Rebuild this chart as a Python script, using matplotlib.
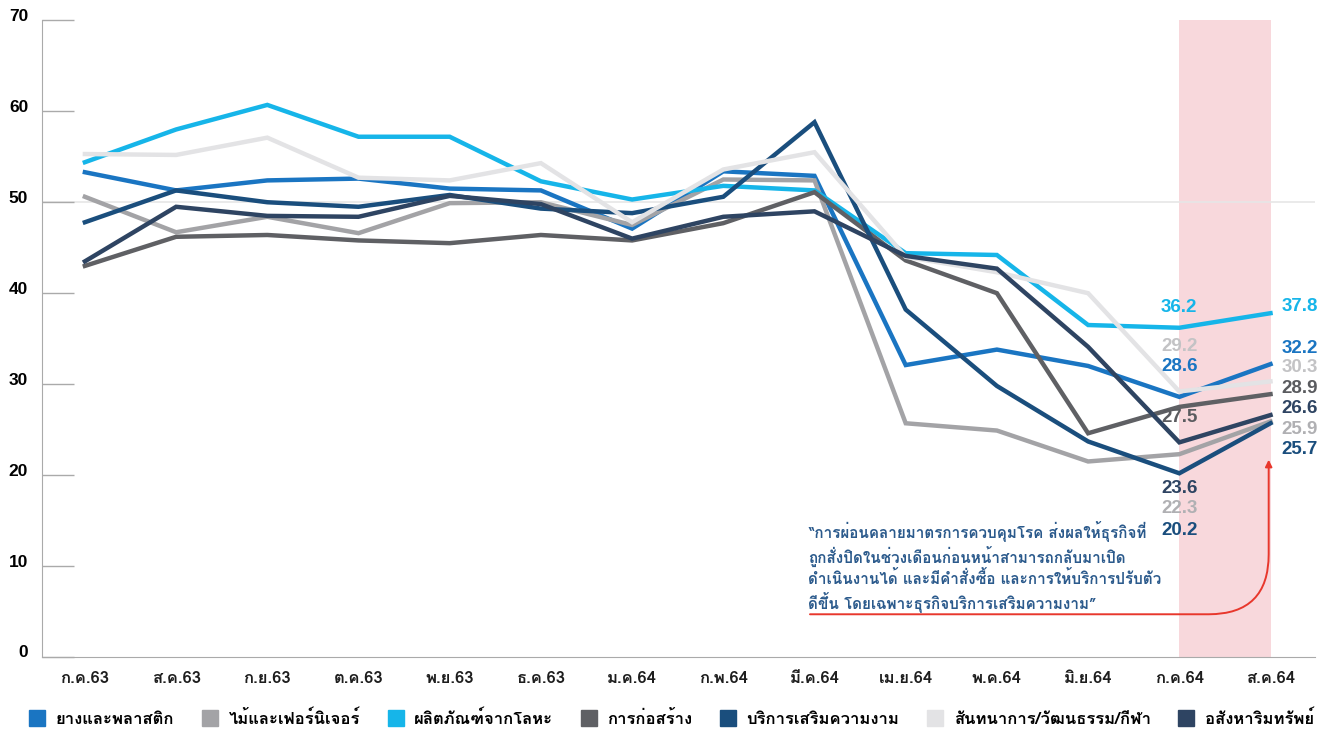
import matplotlib
matplotlib.use("Agg")
import matplotlib.pyplot as plt
from matplotlib import font_manager
from matplotlib.ft2font import FT2Font
from matplotlib.lines import Line2D
from matplotlib.transforms import ScaledTranslation


def thai_family():
    # pick the first installed family that can draw Thai script
    for f in font_manager.fontManager.ttflist:
        try:
            if 0x0E01 in FT2Font(f.fname).get_charmap():
                return f.name
        except Exception:
            pass
    return "DejaVu Sans"


THAI = thai_family()
plt.rcParams["font.family"] = [THAI, "Liberation Sans", "DejaVu Sans"]

months = ["ก.ค.63", "ส.ค.63", "ก.ย.63", "ต.ค.63", "พ.ย.63", "ธ.ค.63", "ม.ค.64",
          "ก.พ.64", "มี.ค.64", "เม.ย.64", "พ.ค.64", "มิ.ย.64", "ก.ค.64", "ส.ค.64"]

rubber = [53.3, 51.3, 52.4, 52.6, 51.5, 51.3, 47.1, 53.4, 52.9, 32.1, 33.8, 32.0, 28.6, 32.2]
wood = [50.6, 46.7, 48.4, 46.6, 49.9, 50.0, 47.5, 52.5, 52.4, 25.7, 24.9, 21.5, 22.3, 25.9]
metal = [54.4, 58.0, 60.7, 57.2, 57.2, 52.3, 50.3, 51.8, 51.3, 44.4, 44.2, 36.5, 36.2, 37.8]
construction = [43.0, 46.2, 46.4, 45.8, 45.5, 46.4, 45.8, 47.7, 51.1, 43.6, 40.0, 24.6, 27.5, 28.9]
beauty = [47.8, 51.3, 50.0, 49.5, 50.8, 49.3, 48.8, 50.6, 58.8, 38.2, 29.8, 23.7, 20.2, 25.7]
recreation = [55.3, 55.2, 57.1, 52.7, 52.4, 54.3, 47.8, 53.6, 55.5, 44.0, 42.3, 40.0, 29.2, 30.3]
realestate = [43.5, 49.5, 48.5, 48.4, 50.7, 49.8, 46.0, 48.4, 49.0, 44.1, 42.7, 34.1, 23.6, 26.6]

names = ["ยางและพลาสติก", "ไม้และเฟอร์นิเจอร์", "ผลิตภัณฑ์จากโลหะ", "การก่อสร้าง",
         "บริการเสริมความงาม", "สันทนาการ/วัฒนธรรม/กีฬา", "อสังหาริมทรัพย์"]
colors = ["#1a75c2", "#a3a3a6", "#16b5e9", "#5f6064", "#1a4e7d", "#e3e3e5", "#2e4462"]
label_colors = ["#1a75c2", "#b0b0b3", "#16b5e9", "#5a5b5f", "#1a4e7d", "#c3c3c5", "#2e4462"]
series = [rubber, wood, metal, construction, beauty, recreation, realestate]

note = ("\u201cการผ่อนคลายมาตรการควบคุมโรค ส่งผลให้ธุรกิจที่\n"
        "ถูกสั่งปิดในช่วงเดือนก่อนหน้าสามารถกลับมาเปิด\n"
        "ดำเนินงานได้ และมีคำสั่งซื้อ และการให้บริการปรับตัว\n"
        "ดีขึ้น โดยเฉพาะธุรกิจบริการเสริมความงาม\u201d")

fig = plt.figure(figsize=(13.43, 7.31), dpi=100)
ax = fig.add_axes([0.0313, 0.1012, 0.948, 0.871])
x = list(range(len(months)))

ax.axvspan(12, 13, color="#f8d8dc", zorder=0, lw=0)
ax.axhline(50, color="#e6e6e6", lw=1.2, zorder=0.5)

# light series at the back, cyan on top
for i in [5, 1, 3, 6, 4, 0, 2]:
    ax.plot(x, series[i], color=colors[i], lw=3.2, solid_joinstyle="miter", zorder=2 + i * 0.01)

# value labels for the last two months
left_pos = {2: 38.4, 5: 34.1, 0: 31.9, 3: 26.3, 6: 18.5, 1: 16.3, 4: 13.9}
right_pos = {2: 38.5, 0: 33.9, 5: 31.8, 3: 29.5, 6: 27.3, 1: 25.0, 4: 22.8}
for i, yy in left_pos.items():
    ax.text(12, yy, f"{series[i][12]:.1f}", color=label_colors[i], fontsize=13.5,
            fontweight="bold", ha="center", va="center",
            family=["Liberation Sans", "DejaVu Sans"], zorder=5)
for i, yy in right_pos.items():
    ax.text(13.12, yy, f"{series[i][13]:.1f}", color=label_colors[i], fontsize=13.5,
            fontweight="bold", ha="left", va="center",
            family=["Liberation Sans", "DejaVu Sans"], zorder=5)

ax.text(7.93, 15.0, note, color="#2b5a8c", fontsize=11, fontweight="bold",
        ha="left", va="top", linespacing=1.25, zorder=5)
ax.annotate("", xy=(12.98, 22.0), xytext=(7.92, 4.7),
            arrowprops=dict(arrowstyle="-|>", color="#e8372c", lw=1.4,
                            mutation_scale=10,
                            connectionstyle="angle,angleA=0,angleB=90,rad=60"),
            zorder=5)

ax.set_xlim(-0.47, 13.49)
ax.set_ylim(0, 70)
ax.set_xticks(x)
ax.set_xticklabels(months, fontsize=12, color="#1e1e1e", fontweight="bold")
ax.set_yticks(range(0, 71, 10))
ax.set_yticklabels([str(v) for v in range(0, 71, 10)], fontsize=12.5, fontweight="bold",
                   family=["Liberation Sans", "DejaVu Sans"])
ax.tick_params(axis="x", length=0, pad=10)
ax.tick_params(axis="y", direction="in", length=23, width=1.0, color="#aaaaaa", pad=10)
for lab in ax.get_yticklabels():
    lab.set_transform(lab.get_transform() + ScaledTranslation(0, 4 / 72, fig.dpi_scale_trans))
for s in ["top", "right"]:
    ax.spines[s].set_visible(False)
ax.spines["left"].set_color("#aaaaaa")
ax.spines["bottom"].set_color("#aaaaaa")

handles = [Line2D([], [], marker="s", ls="", markersize=11, color=c) for c in colors]
fig.legend(handles, names, loc="center", bbox_to_anchor=(0.5, 0.018), ncol=7,
           frameon=False, prop=dict(size=12, weight="bold"), handletextpad=0.6,
           columnspacing=1.65, handlelength=1.0)

fig.savefig("out.png", dpi=100)
